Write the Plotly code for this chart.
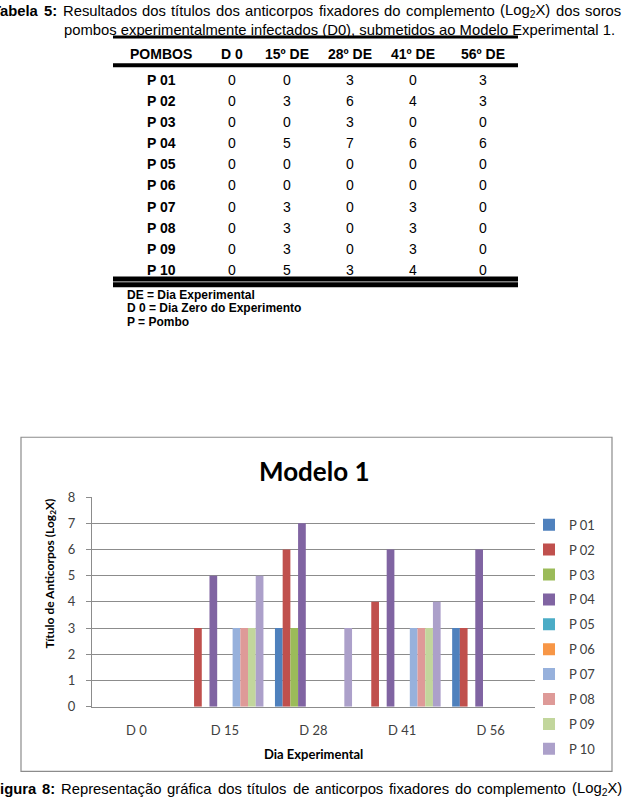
import plotly.graph_objects as go

# ---------------- data ----------------
pombos = ["P 01", "P 02", "P 03", "P 04", "P 05", "P 06", "P 07", "P 08", "P 09", "P 10"]
dias_tabela = ["D 0", "15º DE", "28º DE", "41º DE", "56º DE"]
dias_grafico = ["D 0", "D 15", "D 28", "D 41", "D 56"]
d0 = [0, 0, 0, 0, 0, 0, 0, 0, 0, 0]
d15 = [0, 3, 0, 5, 0, 0, 3, 3, 3, 5]
d28 = [3, 6, 3, 7, 0, 0, 0, 0, 0, 3]
d41 = [0, 4, 0, 6, 0, 0, 3, 3, 3, 4]
d56 = [3, 3, 0, 6, 0, 0, 0, 0, 0, 0]
colunas = [d0, d15, d28, d41, d56]
y_ticks = [0, 1, 2, 3, 4, 5, 6, 7, 8]

titulo_tabela = [("Tabela", True), ("5:", True), ("Resultados", False), ("dos", False),
                 ("títulos", False), ("dos", False), ("anticorpos", False), ("fixadores", False),
                 ("do", False), ("complemento", False), ("(Log<sub>2</sub>X)", False),
                 ("dos", False), ("soros", False)]
titulo_tabela_2 = "pombos experimentalmente infectados (D0), submetidos ao Modelo Experimental 1."
legenda_figura = [("Figura", True), ("8:", True), ("Representação", False), ("gráfica", False),
                  ("dos", False), ("títulos", False), ("de", False), ("anticorpos", False),
                  ("fixadores", False), ("do", False), ("complemento", False),
                  ("(Log<sub>2</sub>X)", False)]
notas = ["DE = Dia Experimental", "D 0 = Dia Zero do Experimento", "P = Pombo"]

cores = ["#4F81BD", "#C0504D", "#9BBB59", "#8064A2", "#4BACC6",
         "#F79646", "#97B1DC", "#DE9A98", "#C2D69C", "#ACA0CA"]

W, H = 624, 799


def px(x):
    return x / W


def py(y):
    return 1 - y / H


# approximate Arial/Liberation Sans advance widths (1/1000 em)
REG = {" ": 278, "a": 556, "b": 556, "c": 500, "d": 556, "e": 556, "f": 278, "g": 556,
       "h": 556, "i": 222, "j": 222, "k": 500, "l": 222, "m": 833, "n": 556, "o": 556,
       "p": 556, "q": 556, "r": 333, "s": 500, "t": 278, "u": 556, "v": 500, "w": 722,
       "x": 500, "y": 500, "z": 500, "(": 333, ")": 333, ".": 278, ",": 278, ":": 278,
       "í": 278, "ç": 500, "ã": 556, "á": 556, "L": 556, "X": 667, "R": 722, "F": 611,
       "T": 611}
BOLD_EXTRA = {"T": 611, "a": 556, "b": 611, "e": 556, "l": 278, "F": 611, "i": 278,
              "g": 611, "u": 611, "r": 389, ":": 333}


def text_width(t, size, bold=False):
    t = t.replace("<sub>2</sub>", "\u2082")
    w = 0
    for ch in t:
        if ch == "\u2082":
            w += 556 * 0.7
        elif ch.isdigit():
            w += 556
        elif bold and ch in BOLD_EXTRA:
            w += BOLD_EXTRA[ch]
        else:
            w += REG.get(ch, 556)
    return w * size / 1000.0


def justified(words, x0, x1, yc, size, family):
    widths = [text_width(w, size, b) for w, b in words]
    gap = (x1 - x0 - sum(widths)) / (len(words) - 1)
    out = []
    x = x0
    for (w, b), wd in zip(words, widths):
        out.append(dict(xref="paper", yref="paper", x=px(x), y=py(yc),
                        text=("<b>" + w + "</b>") if b else w, showarrow=False,
                        xanchor="left", yanchor="middle",
                        font=dict(family=family, size=size, color="black")))
        x += wd + gap
    return out


fig = go.Figure()

for i, nome in enumerate(pombos):
    fig.add_trace(go.Bar(
        x=dias_grafico,
        y=[col[i] for col in colunas],
        name=nome,
        marker=dict(color=cores[i], line=dict(width=0)),
        legendgroup=nome,
    ))

shapes = []
annotations = []

# ---------- table ----------
TF = "Liberation Sans, Arial, sans-serif"
col_x = [161, 232, 287, 350, 413, 483]
header_y = 47
row_y0, row_dy = 73, 21.6

for yy, lw in [(29.5, 3), (58.5, 4), (276.5, 5), (282.5, 5)]:
    shapes.append(dict(type="line", xref="paper", yref="paper",
                       x0=px(113), x1=px(518), y0=py(yy), y1=py(yy),
                       line=dict(color="black", width=lw)))

headers = ["POMBOS"] + dias_tabela
for j, h in enumerate(headers):
    annotations.append(dict(xref="paper", yref="paper", x=px(col_x[j]), y=py(header_y),
                            text="<b>" + h + "</b>", showarrow=False,
                            xanchor="center", yanchor="middle",
                            font=dict(family=TF, size=14, color="black")))
for i, nome in enumerate(pombos):
    yy = py(row_y0 + i * row_dy)
    annotations.append(dict(xref="paper", yref="paper", x=px(col_x[0]), y=yy,
                            text="<b>" + nome + "</b>", showarrow=False,
                            xanchor="center", yanchor="middle",
                            font=dict(family=TF, size=14, color="black")))
    for j, col in enumerate(colunas):
        annotations.append(dict(xref="paper", yref="paper", x=px(col_x[j + 1]), y=yy,
                                text=str(col[i]), showarrow=False,
                                xanchor="center", yanchor="middle",
                                font=dict(family=TF, size=14, color="black")))

for t, yy in zip(notas, [293, 306, 320]):
    annotations.append(dict(xref="paper", yref="paper", x=px(125), y=py(yy),
                            text="<b>" + t + "</b>", showarrow=False,
                            xanchor="left", yanchor="middle",
                            font=dict(family=TF, size=12, color="black")))

# ---------- page texts ----------
annotations += justified(titulo_tabela, -10, 619, 3, 14.8, TF)
annotations.append(dict(xref="paper", yref="paper", x=px(62), y=py(22),
                        text=titulo_tabela_2,
                        showarrow=False, xanchor="left", yanchor="middle",
                        font=dict(family=TF, size=14.8, color="black")))
annotations += justified(legenda_figura, -11, 620, 797, 14.8, TF)

# ---------- chart frame and texts ----------
CF = "Lato, Open Sans, sans-serif"
shapes.append(dict(type="rect", xref="paper", yref="paper",
                   x0=px(21), x1=px(612), y0=py(779), y1=py(438),
                   line=dict(color="#8C8C8C", width=1.2), layer="below"))

annotations.append(dict(xref="paper", yref="paper", x=px(314), y=py(472),
                        text="<b>Modelo 1</b>", showarrow=False,
                        xanchor="center", yanchor="middle",
                        font=dict(family=CF, size=26, color="black")))
annotations.append(dict(xref="paper", yref="paper", x=px(313), y=py(761),
                        text="<b>Dia Experimental</b>", showarrow=False,
                        xanchor="center", yanchor="middle",
                        font=dict(family=CF, size=13, color="black")))
annotations.append(dict(xref="paper", yref="paper", x=px(50), y=py(577),
                        text="<b>Título de Anticorpos (Log<sub>2</sub>X)</b>", showarrow=False,
                        textangle=-90, xanchor="center", yanchor="middle",
                        font=dict(family=CF, size=12, color="black")))

fig.update_layout(
    width=W, height=H,
    margin=dict(l=0, r=0, t=0, b=0),
    paper_bgcolor="white", plot_bgcolor="white",
    barmode="group", bargap=0.13, bargroupgap=0,
    shapes=shapes, annotations=annotations,
    showlegend=True,
    legend=dict(x=px(529), y=py(512), xanchor="left", yanchor="top",
                traceorder="grouped", tracegroupgap=5,
                font=dict(family=CF, size=13, color="#404040"),
                bgcolor="rgba(0,0,0,0)"),
    xaxis=dict(domain=[px(92), px(535)], anchor="y",
               showline=True, linecolor="#8C8C8C", linewidth=1,
               showgrid=False, ticks="",
               tickfont=dict(family=CF, size=13, color="#404040"),
               ticklabelstandoff=12, fixedrange=True),
    yaxis=dict(domain=[py(713), py(499)], anchor="x",
               range=[0, 8], tickvals=y_ticks,
               showline=True, linecolor="#8C8C8C", linewidth=1,
               showgrid=True, gridcolor="#8C8C8C", gridwidth=1,
               ticks="outside", ticklen=5, tickcolor="#8C8C8C",
               tickfont=dict(family=CF, size=13, color="#404040"),
               ticklabelstandoff=8, zeroline=False, fixedrange=True),
)

fig.write_html("out.html")
